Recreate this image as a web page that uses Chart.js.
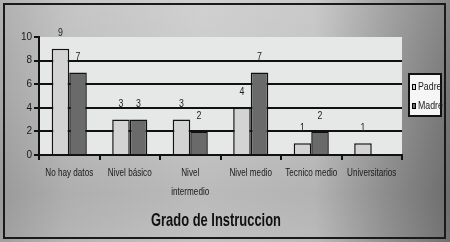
<!DOCTYPE html>
<html>
<head>
<meta charset="utf-8">
<script src="https://cdn.jsdelivr.net/npm/chart.js@4"></script>
<style>
  html,body{margin:0;padding:0;width:450px;height:242px;overflow:hidden;background:#fff;}
  #wrap{position:absolute;left:0;top:0;width:450px;height:242px;
    background:
      linear-gradient(180deg,rgba(255,255,255,0.12) 0%,rgba(255,255,255,0) 40%,rgba(0,0,0,0.08) 80%,rgba(0,0,0,0.04) 100%),
      linear-gradient(90deg,#a6a6a6 0%,#bdbdbd 15%,#cacaca 45%,#c2c2c2 70%,#9a9a9a 85%,#767676 100%);}
  #frame{position:absolute;left:3px;top:3px;width:439px;height:232px;border:2px solid #1a1a1a;pointer-events:none;}
  canvas{position:absolute;left:0;top:0;}
  #title{position:absolute;left:216px;top:209px;white-space:nowrap;transform:translateX(-50%) scaleX(0.68);
    font-family:'Liberation Sans',Arial,sans-serif;font-weight:bold;font-size:19px;color:#111;}
  #legend{position:absolute;left:408px;top:73px;width:30px;height:40px;background:#f6f6f6;border:2px solid #111;
    font-family:'Liberation Sans',Arial,sans-serif;font-size:11px;color:#222;}
  .li{position:absolute;left:2px;white-space:nowrap;line-height:12px;}
  .sw{display:inline-block;width:2px;height:4px;border:1.5px solid #000;margin-right:2px;vertical-align:middle;}
  .tx{display:inline-block;transform:scaleX(0.8);transform-origin:left center;}
</style>
</head>
<body>
<div id="wrap">
  <canvas id="c" width="450" height="242"></canvas>
  <div id="frame"></div>
  <div id="title">Grado de Instruccion</div>
  <div id="legend"></div>
</div>
<script>
const categories = ['No hay datos','Nivel básico',['Nivel','intermedio'],'Nivel medio','Tecnico medio','Universitarios'];
const seriesNames = ['Padre','Madre'];
const padre = [9,3,3,4,1,1];
const madre = [7,3,2,7,2,null];
const yTicks = [0,2,4,6,8,10];

const FONT = "'Liberation Sans',Arial,sans-serif";
const colors = ['#d3d3d3','#6a6a6a'];

const legendEl = document.getElementById('legend');
seriesNames.forEach((n,i)=>{
  const d=document.createElement('div');d.className='li';d.style.top=(i===0?5:24)+'px';
  d.innerHTML='<span class="sw" style="background:'+colors[i]+'"></span><span class="tx">'+n+'</span>';
  legendEl.appendChild(d);
});

const plotBg = {
  id:'plotBg',
  beforeDraw(chart){
    const {ctx,chartArea:a}=chart;
    ctx.save();ctx.fillStyle='#e6e7e7';ctx.fillRect(a.left,a.top,a.right-a.left,a.bottom-a.top);ctx.restore();
  }
};
const valueLabels = {
  id:'valueLabels',
  afterDatasetsDraw(chart){
    const ctx=chart.ctx;ctx.save();
    ctx.font='11px '+FONT;ctx.fillStyle='#222';ctx.textAlign='center';ctx.textBaseline='bottom';
    chart.data.datasets.forEach((ds,di)=>{
      chart.getDatasetMeta(di).data.forEach((el,i)=>{
        const v=ds.data[i]; if(v==null) return;
        ctx.save();ctx.translate(el.x,el.y-10);ctx.scale(0.8,1);ctx.fillText(String(v),0,0);ctx.restore();
      });
    });
    ctx.restore();
  }
};
const xLabels = {
  id:'xLabels',
  afterDraw(chart){
    const ctx=chart.ctx, xs=chart.scales.x, top=chart.chartArea.bottom;
    ctx.save();ctx.font='11px '+FONT;ctx.fillStyle='#1a1a1a';ctx.textAlign='center';ctx.textBaseline='middle';
    chart.data.labels.forEach((lab,i)=>{
      const x=xs.getPixelForValue(i);
      const lines=Array.isArray(lab)?lab:[lab];
      lines.forEach((ln,j)=>{
        ctx.save();ctx.translate(x,top+18+j*19);ctx.scale(0.74,1);ctx.fillText(ln,0,0);ctx.restore();
      });
    });
    ctx.restore();
  }
};

new Chart(document.getElementById('c'),{
  type:'bar',
  data:{
    labels:categories,
    datasets:[
      {label:seriesNames[0],data:padre,backgroundColor:colors[0],borderColor:'#111',borderWidth:1.5,barPercentage:1,categoryPercentage:0.58},
      {label:seriesNames[1],data:madre,backgroundColor:colors[1],borderColor:'#111',borderWidth:1.5,barPercentage:1,categoryPercentage:0.58}
    ]
  },
  options:{
    responsive:false,animation:false,
    layout:{padding:{left:0,top:37,right:48,bottom:40}},
    plugins:{legend:{display:false},title:{display:false},tooltip:{enabled:false}},
    scales:{
      x:{
        grid:{drawOnChartArea:false,color:'#111',tickColor:'#111',tickLength:5,lineWidth:2,offset:true},
        border:{color:'#111',width:2},
        ticks:{display:false},
        afterFit(s){s.height=47;}
      },
      y:{
        min:0,max:10,
        afterBuildTicks(s){s.ticks=yTicks.map(v=>({value:v}));},
        grid:{color:c=>(c.tick&&c.tick.value===10)?'rgba(0,0,0,0)':'#111',tickColor:'#111',lineWidth:2,tickLength:5},
        border:{color:'#111',width:2},
        ticks:{font:{family:FONT,size:10},color:'#1a1a1a',padding:2},
        afterFit(s){s.width=39;}
      }
    }
  },
  plugins:[plotBg,valueLabels,xLabels]
});
</script>
</body>
</html>
